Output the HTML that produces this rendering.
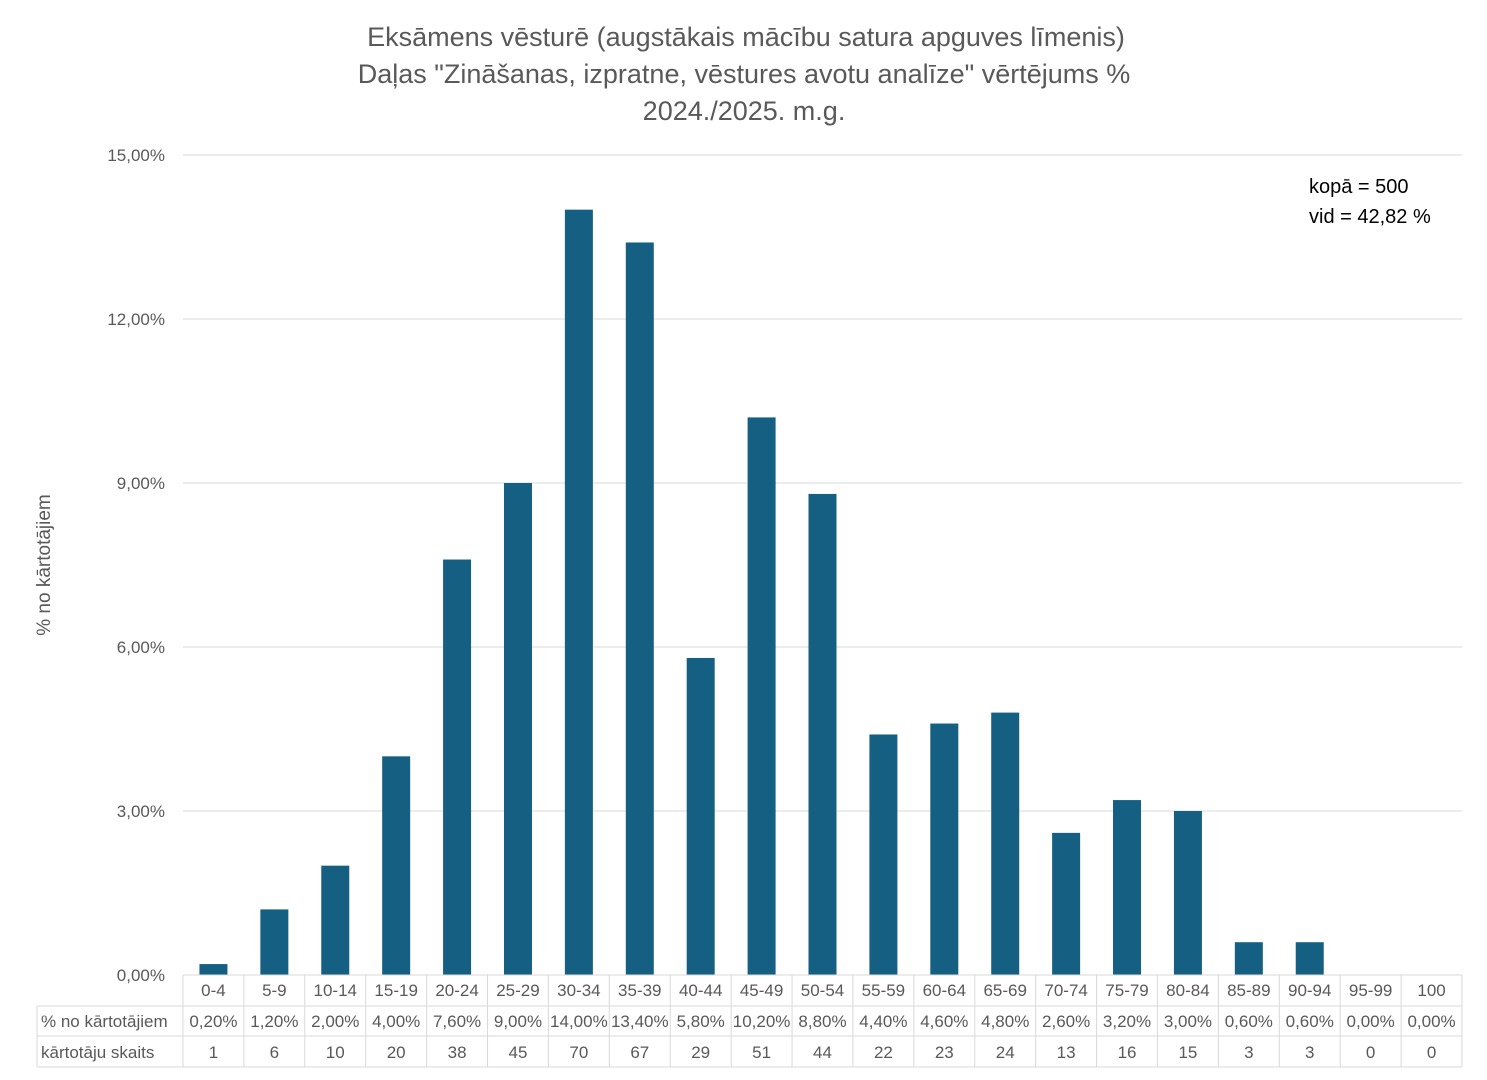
<!DOCTYPE html>
<html><head><meta charset="utf-8"><style>
body{margin:0;background:#fff;}
svg{display:block;font-family:"Liberation Sans",sans-serif;}
</style></head><body>
<svg id="c" width="1487" height="1080">
<rect width="1487" height="1080" fill="#fff"/>
<g fill="#595959" font-size="27" text-anchor="middle">
<text x="746" y="46">Eksāmens vēsturē (augstākais mācību satura apguves līmenis)</text>
<text x="744" y="83">Daļas "Zināšanas, izpratne, vēstures avotu analīze" vērtējums %</text>
<text x="744" y="120">2024./2025. m.g.</text>
</g>
<text transform="translate(50,565) rotate(-90)" text-anchor="middle" font-size="19" fill="#595959">% no kārtotājiem</text>
<g font-size="20" fill="#000">
<text x="1309" y="193">kopā = 500</text>
<text x="1309" y="223">vid = 42,82 %</text>
</g>
<g id="grid"></g><g id="bars"></g><g id="table"></g>
</svg>
<script>
const categories=["0-4","5-9","10-14","15-19","20-24","25-29","30-34","35-39","40-44","45-49","50-54","55-59","60-64","65-69","70-74","75-79","80-84","85-89","90-94","95-99","100"];
const percents=[0.2,1.2,2.0,4.0,7.6,9.0,14.0,13.4,5.8,10.2,8.8,4.4,4.6,4.8,2.6,3.2,3.0,0.6,0.6,0.0,0.0];
const counts=[1,6,10,20,38,45,70,67,29,51,44,22,23,24,13,16,15,3,3,0,0];
const yTicks=[0,3,6,9,12,15];
const NS="http://www.w3.org/2000/svg";
const x0=183,x1=1462,y0=975,yTop=155,yMax=15;
const cw=(x1-x0)/categories.length;
const yS=v=>y0-(v/yMax)*(y0-yTop);
const xS=i=>x0+cw*i;
function mk(t,a,p){const e=document.createElementNS(NS,t);for(const k in a)e.setAttribute(k,a[k]);p.appendChild(e);return e;}
const fmt=v=>v.toFixed(2).replace('.',',')+'%';
const grid=document.getElementById('grid');
yTicks.forEach(t=>{
 const l=mk('line',{x1:x0,x2:x1,y1:yS(t),y2:yS(t),stroke:'#d9d9d9','stroke-width':1},grid);
 
 
 const tx=mk('text',{x:165,y:yS(t)+6,'text-anchor':'end','font-size':17,fill:'#595959'},grid);
 tx.textContent=fmt(t);
 
 
});
const bars=document.getElementById('bars');
percents.forEach((v,i)=>{
 const b=mk('rect',{x:xS(i)+cw/2-14,y:yS(v),width:28,height:y0-yS(v),fill:'#156082'},bars);
 
 
});
const tb=document.getElementById('table');
const st={stroke:'#d9d9d9','stroke-width':1};
mk('line',Object.assign({x1:x0,x2:x1,y1:975,y2:975},st),tb);
[1006,1036,1067].forEach(y=>mk('line',Object.assign({x1:37,x2:x1,y1:y,y2:y},st),tb));
mk('line',Object.assign({x1:37,x2:37,y1:1006,y2:1067},st),tb);
for(let i=0;i<=categories.length;i++)mk('line',Object.assign({x1:xS(i),x2:xS(i),y1:975,y2:1067},st),tb);
const lab=[["% no kārtotājiem",1021],["kārtotāju skaits",1052]];
lab.forEach(([s,y])=>{const t=mk('text',{x:41,y:y+6,'font-size':17,fill:'#595959'},tb);t.textContent=s;
 
 });
categories.forEach((c,i)=>{
 const cx=xS(i)+cw/2;
 const a=mk('text',{x:cx,y:996,'text-anchor':'middle','font-size':17,fill:'#595959'},tb);a.textContent=c;
 
 
 const b=mk('text',{x:cx,y:1027,'text-anchor':'middle','font-size':17,fill:'#595959'},tb);b.textContent=fmt(percents[i]);
 
 
 const d=mk('text',{x:cx,y:1058,'text-anchor':'middle','font-size':17,fill:'#595959'},tb);d.textContent=counts[i];
 
 
});
</script>
</body></html>
